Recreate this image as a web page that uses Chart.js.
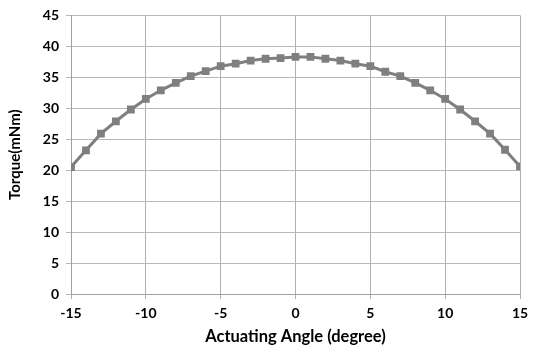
<!DOCTYPE html>
<html>
<head>
<meta charset="utf-8">
<script src="https://cdn.jsdelivr.net/npm/chart.js@4"></script>
<style>
  html, body { margin: 0; padding: 0; background: #fff; }
  #wrap { width: 536px; height: 351px; }
</style>
</head>
<body>
<div id="wrap"><canvas id="torque-chart" width="536" height="351"></canvas></div>
<script>
// actuating angle (degree)
const angles = [-15, -14, -13, -12, -11, -10, -9, -8, -7, -6, -5, -4, -3, -2, -1, 0,
  1, 2, 3, 4, 5, 6, 7, 8, 9, 10, 11, 12, 13, 14, 15];
// torque (mNm)
const torque = [20.5, 23.2, 25.9, 27.9, 29.8, 31.5, 32.9, 34.1, 35.2, 36.0, 36.8, 37.2, 37.7, 38.0, 38.1, 38.3,
  38.3, 38.0, 37.7, 37.2, 36.8, 35.9, 35.2, 34.1, 32.9, 31.5, 29.8, 27.9, 25.9, 23.3, 20.6];
const xTicks = [-15, -10, -5, 0, 5, 10, 15];
const yTicks = [0, 5, 10, 15, 20, 25, 30, 35, 40, 45];

const points = angles.map((a, i) => ({ x: a, y: torque[i] }));
const fontFamily = "Lato, 'Open Sans', sans-serif";

const ctx = document.getElementById("torque-chart").getContext("2d");
new Chart(ctx, {
  type: "line",
  data: {
    datasets: [
      {
        label: "Torque",
        data: points,
        borderColor: "#7f7f7f",
        backgroundColor: "#7f7f7f",
        borderWidth: 3,
        pointStyle: "rect",
        pointRadius: 5.5,
        pointHoverRadius: 5.5,
        pointBorderWidth: 0,
        tension: 0,
      },
    ],
  },
  options: {
    responsive: false,
    animation: false,
    layout: { padding: { top: 10, right: 16, left: 0, bottom: 0 } },
    plugins: { legend: { display: false }, tooltip: { enabled: false } },
    scales: {
      x: {
        type: "linear",
        min: -15,
        max: 15,
        afterBuildTicks: (scale) => {
          scale.ticks = xTicks.map((v) => ({ value: v }));
        },
        afterFit: (scale) => {
          scale.height = 57;
        },
        grid: { color: "#b0b0b0", lineWidth: 1, tickLength: 5 },
        border: { color: "#a0a0a0", width: 1 },
        ticks: {
          color: "#000",
          padding: 6,
          font: { family: fontFamily, size: 14, weight: "bold" },
        },
        title: {
          display: true,
          text: "Actuating Angle (degree)",
          color: "#000",
          padding: { top: 1 },
          font: { family: fontFamily, size: 16.5, weight: "bold" },
        },
      },
      y: {
        min: 0,
        max: 45,
        afterBuildTicks: (scale) => {
          scale.ticks = yTicks.map((v) => ({ value: v }));
        },
        afterFit: (scale) => {
          scale.width = 71;
        },
        grid: { color: "#b8b8b8", lineWidth: 1, tickLength: 5 },
        border: { color: "#a0a0a0", width: 1 },
        ticks: {
          color: "#000",
          padding: 7,
          font: { family: fontFamily, size: 14, weight: "bold" },
        },
        title: {
          display: true,
          text: "Torque(mNm)",
          color: "#000",
          padding: { top: 6, bottom: 0 },
          font: { family: fontFamily, size: 15, weight: "bold" },
        },
      },
    },
  },
});
</script>
</body>
</html>
